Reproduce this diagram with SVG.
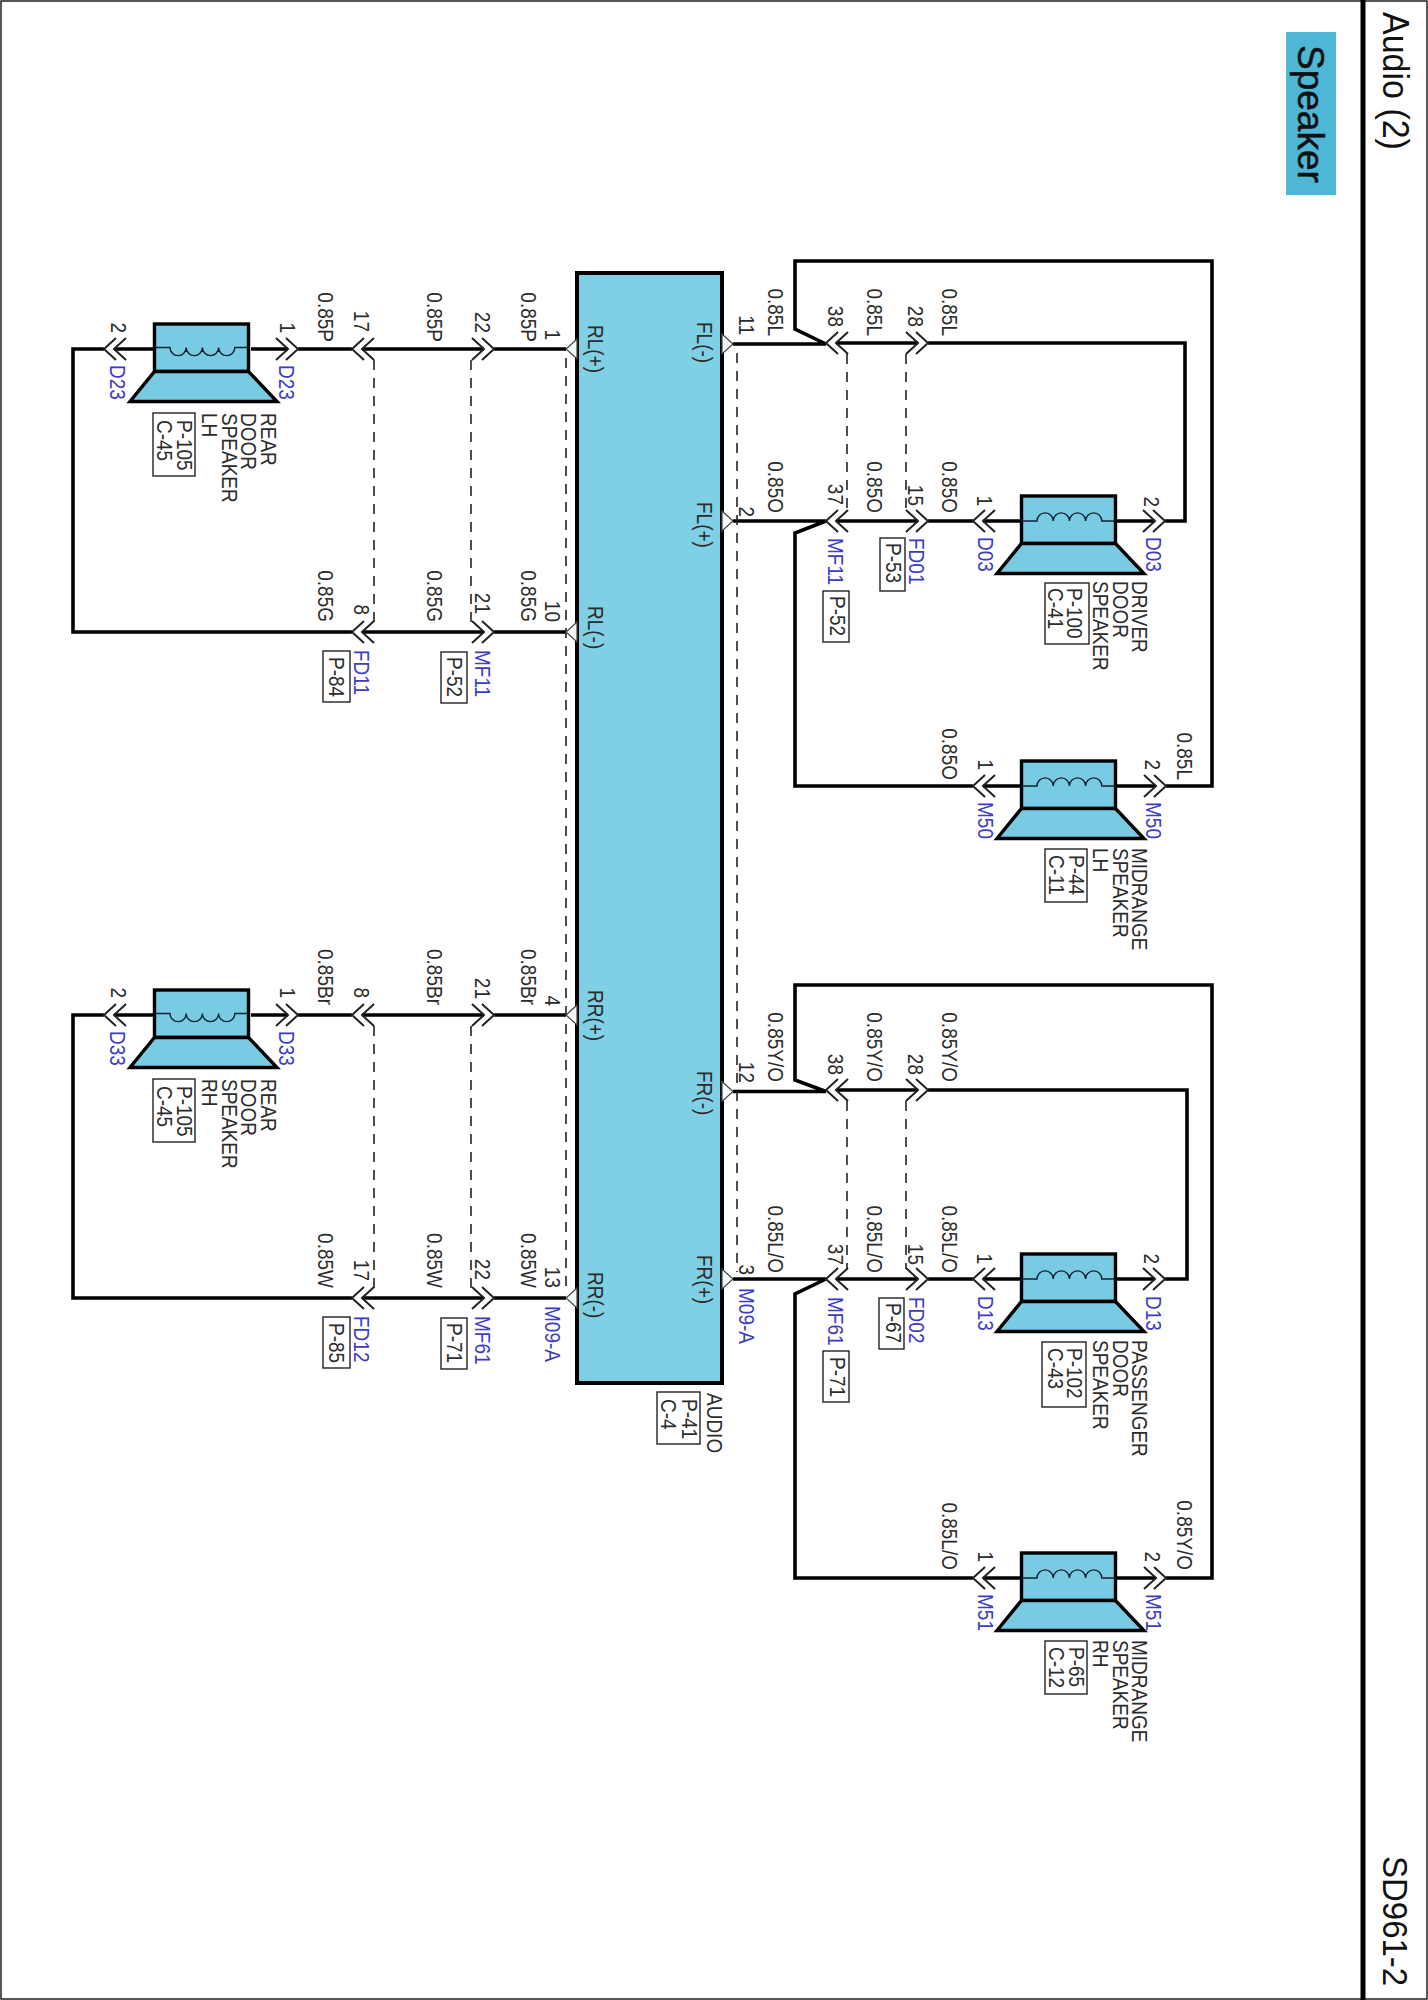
<svg xmlns="http://www.w3.org/2000/svg" xmlns:xlink="http://www.w3.org/1999/xlink" width="1428" height="2000" viewBox="0 0 1428 2000">
<style>
text{font-family:"Liberation Sans",Arial,sans-serif;font-size:19px;fill:#2c2c2c}
.b{fill:#3c3cc4}
.e{text-anchor:end}
.w{fill:none;stroke:#000;stroke-width:3.6;stroke-linejoin:miter}
.d{fill:none;stroke:#222;stroke-width:1.6;stroke-dasharray:10 8}
.c{fill:none;stroke:#222;stroke-width:2}
.p{fill:#f4fafc;stroke:#444;stroke-width:1.2}
.r{fill:#fff;stroke:#222;stroke-width:1.4}
.s{fill:#78cbe2;stroke:#000;stroke-width:3.4}
.l{fill:none;stroke:#123;stroke-width:1.4}
.h{font-size:34px;fill:#111}
</style>
<defs>
<path id="cl" class="c" d="M12-11L0 0 12 11M22-11L10 0 22 11"/>
<path id="cr" class="c" d="M-12-11L0 0-12 11M-22-11L-10 0-22 11"/>
<polygon id="pl" class="p" points="11,-10 0,0 11,10"/>
<polygon id="pr" class="p" points="0,-10 11,0 0,10"/>
<g id="su">
<rect class="s" x="1.5" y="-25" width="94" height="47.5"/>
<polygon class="s" points="1.5,22.5 95.5,22.5 124,52.5 -23,52.5"/>
<path class="l" d="M1.5 0H17a8.1 8.1 0 0 1 16.2 0a8.1 8.1 0 0 1 16.2 0a8.1 8.1 0 0 1 16.2 0a8.1 8.1 0 0 1 16.2 0H95.5"/>
</g>
<g id="sd">
<rect class="s" x="1.5" y="-25" width="94" height="47.5"/>
<polygon class="s" points="1.5,22.5 95.5,22.5 124,52.5 -23,52.5"/>
<path class="l" d="M1.5-1.5H17a8.1 8.1 0 0 0 16.2 0a8.1 8.1 0 0 0 16.2 0a8.1 8.1 0 0 0 16.2 0a8.1 8.1 0 0 0 16.2 0H95.5"/>
</g>
</defs>
<rect width="1428" height="2000" fill="#fff"/>
<g id="frame">
<rect x="1" y="1" width="1426" height="1998" fill="none" stroke="#222" stroke-width="1.5"/>
<path d="M1363 0V2000" stroke="#000" stroke-width="5" fill="none"/>
<text class="h" transform="matrix(0 1 -1.07 0 1383 12)">Audio (2)</text>
<text class="h" transform="matrix(0 1 -1.07 0 1383 1856)" style="font-size:33px">SD961-2</text>
</g>
<g id="title">
<rect x="1286" y="32" width="50" height="163" fill="#4fb7d6"/>
<text transform="matrix(0 1 -1 0 1298 45)" style="font-size:37px;fill:#111;stroke:#111;stroke-width:.5">Speaker</text>
</g>

<g id="connectors">
<path class="w" d="M566 349H494M484 349H362M352 349H298M288 349H251M153 349H114M104 349H73V632H352M362 632H484M494 632H566"/>
<path class="w" d="M566 1015H494M484 1015H362M352 1015H298M288 1015H251M153 1015H114M104 1015H73V1298H352M362 1298H484M494 1298H566"/>
<path class="w" d="M733 344H826L795 329V261H1212V786H1166M1156 786H1117M1021 786H983M973 786H795V533L826 521H733M836 521H918M928 521H973M983 521H1021M1117 521H1155M1165 521H1185V343H928M918 343H836"/>
<path class="w" d="M733 1091.5H826L795 1080V985H1212V1578H1166M1156 1578H1117M1021 1578H983M973 1578H795V1294L826 1279H733M836 1279H918M928 1279H973M983 1279H1021M1117 1279H1155M1165 1279H1187V1090H928M918 1090H836"/>
<path class="d" d="M566 358V1290M737 353V1272M374 360V622M374 1026V1288M471 360V622M471 1026V1288M847 354V511M847 1101V1269M906 354V511M906 1101V1269"/>
</g>

<g id="audio">
<rect class="s" x="577" y="273" width="145" height="1110" style="fill:#7fcfe5;stroke-width:4"/>
<use xlink:href="#pl" href="#pl" x="566" y="349"/><use xlink:href="#pl" href="#pl" x="566" y="632"/>
<use xlink:href="#pl" href="#pl" x="566" y="1015"/><use xlink:href="#pl" href="#pl" x="566" y="1298"/>
<use xlink:href="#pr" href="#pr" x="722" y="344"/><use xlink:href="#pr" href="#pr" x="722" y="521"/>
<use xlink:href="#pr" href="#pr" x="722" y="1091.5"/><use xlink:href="#pr" href="#pr" x="722" y="1279"/>
<text transform="matrix(0 1 -1.15 0 588 325)">RL(+)</text>
<text transform="matrix(0 1 -1.15 0 588 606)">RL(-)</text>
<text transform="matrix(0 1 -1.15 0 588 990)">RR(+)</text>
<text transform="matrix(0 1 -1.15 0 588 1272)">RR(-)</text>
<text transform="matrix(0 1 -1.15 0 697 322)">FL(-)</text>
<text transform="matrix(0 1 -1.15 0 697 502)">FL(+)</text>
<text transform="matrix(0 1 -1.15 0 697 1071)">FR(-)</text>
<text transform="matrix(0 1 -1.15 0 697 1255)">FR(+)</text>
<text class="e" transform="matrix(0 1 -1.15 0 545 340)">1</text>
<text class="e" transform="matrix(0 1 -1.15 0 545 622)">10</text>
<text class="e" transform="matrix(0 1 -1.15 0 545 1006)">4</text>
<text class="e" transform="matrix(0 1 -1.15 0 545 1288)">13</text>
<text class="e" transform="matrix(0 1 -1.15 0 739 335)">11</text>
<text class="e" transform="matrix(0 1 -1.15 0 739 517)">2</text>
<text class="e" transform="matrix(0 1 -1.15 0 739 1083)">12</text>
<text class="e" transform="matrix(0 1 -1.15 0 739 1275)">3</text>
<text class="b" transform="matrix(0 1 -1.15 0 545 1306)">M09-A</text>
<text class="b" transform="matrix(0 1 -1.15 0 739 1288)">M09-A</text>
<text transform="matrix(0 1 -1.15 0 707 1393)">AUDIO</text>
<rect class="r" x="657" y="1392" width="43" height="52"/>
<text transform="matrix(0 1 -1.15 0 682 1399)">P-41</text>
<text transform="matrix(0 1 -1.15 0 661 1399)">C-4</text>
</g>

<g id="speaker-rear-lh">
<use xlink:href="#sd" href="#sd" x="153" y="349"/>
<use xlink:href="#cl" href="#cl" x="104" y="349"/><use xlink:href="#cr" href="#cr" x="298" y="349"/>
<text class="e" transform="matrix(0 1 -1.15 0 111 333)">2</text>
<text class="e" transform="matrix(0 1 -1.15 0 280 333)">1</text>
<text class="b" transform="matrix(0 1 -1.15 0 110 365)">D23</text>
<text class="b" transform="matrix(0 1 -1.15 0 279 365)">D23</text>
<text transform="matrix(0 1 -1.15 0 261 413)">REAR</text>
<text transform="matrix(0 1 -1.15 0 241 413)">DOOR</text>
<text transform="matrix(0 1 -1.15 0 221.5 413)">SPEAKER</text>
<text transform="matrix(0 1 -1.15 0 202 413)">LH</text>
<rect class="r" x="153" y="413" width="42" height="63"/>
<text transform="matrix(0 1 -1.15 0 177 420)">P-105</text>
<text transform="matrix(0 1 -1.15 0 157 420)">C-45</text>
</g>
<g id="speaker-rear-rh">
<use xlink:href="#sd" href="#sd" x="153" y="1015"/>
<use xlink:href="#cl" href="#cl" x="104" y="1015"/><use xlink:href="#cr" href="#cr" x="298" y="1015"/>
<text class="e" transform="matrix(0 1 -1.15 0 111 998)">2</text>
<text class="e" transform="matrix(0 1 -1.15 0 280 998)">1</text>
<text class="b" transform="matrix(0 1 -1.15 0 110 1031)">D33</text>
<text class="b" transform="matrix(0 1 -1.15 0 279 1031)">D33</text>
<text transform="matrix(0 1 -1.15 0 261 1079)">REAR</text>
<text transform="matrix(0 1 -1.15 0 241 1079)">DOOR</text>
<text transform="matrix(0 1 -1.15 0 221.5 1079)">SPEAKER</text>
<text transform="matrix(0 1 -1.15 0 202 1079)">RH</text>
<rect class="r" x="153" y="1079" width="42" height="63"/>
<text transform="matrix(0 1 -1.15 0 177 1086)">P-105</text>
<text transform="matrix(0 1 -1.15 0 157 1086)">C-45</text>
</g>
<g id="speaker-driver-door">
<use xlink:href="#su" href="#su" x="1020" y="521"/>
<use xlink:href="#cl" href="#cl" x="973" y="521"/><use xlink:href="#cr" href="#cr" x="1165" y="521"/>
<text class="e" transform="matrix(0 1 -1.15 0 977 506)">1</text>
<text class="e" transform="matrix(0 1 -1.15 0 1144 507)">2</text>
<text class="b" transform="matrix(0 1 -1.15 0 978 537)">D03</text>
<text class="b" transform="matrix(0 1 -1.15 0 1146 537)">D03</text>
<text transform="matrix(0 1 -1.15 0 1132 581)">DRIVER</text>
<text transform="matrix(0 1 -1.15 0 1113 581)">DOOR</text>
<text transform="matrix(0 1 -1.15 0 1093 581)">SPEAKER</text>
<rect class="r" x="1045" y="583" width="44" height="61"/>
<text transform="matrix(0 1 -1.15 0 1067 588)">P-100</text>
<text transform="matrix(0 1 -1.15 0 1048 588)">C-41</text>
</g>
<g id="speaker-midrange-lh">
<use xlink:href="#su" href="#su" x="1020" y="786"/>
<use xlink:href="#cl" href="#cl" x="973" y="786"/><use xlink:href="#cr" href="#cr" x="1166" y="786"/>
<text class="e" transform="matrix(0 1 -1.15 0 978 770)">1</text>
<text class="e" transform="matrix(0 1 -1.15 0 1145 770)">2</text>
<text class="b" transform="matrix(0 1 -1.15 0 978 802)">M50</text>
<text class="b" transform="matrix(0 1 -1.15 0 1146 802)">M50</text>
<text transform="matrix(0 1 -1.15 0 1132 848)">MIDRANGE</text>
<text transform="matrix(0 1 -1.15 0 1113 848)">SPEAKER</text>
<text transform="matrix(0 1 -1.15 0 1093 848)">LH</text>
<rect class="r" x="1045" y="849" width="42" height="53"/>
<text transform="matrix(0 1 -1.15 0 1069 855)">P-44</text>
<text transform="matrix(0 1 -1.15 0 1049 855)">C-11</text>
</g>
<g id="speaker-passenger-door">
<use xlink:href="#su" href="#su" x="1020" y="1279"/>
<use xlink:href="#cl" href="#cl" x="973" y="1279"/><use xlink:href="#cr" href="#cr" x="1165" y="1279"/>
<text class="e" transform="matrix(0 1 -1.15 0 977 1264)">1</text>
<text class="e" transform="matrix(0 1 -1.15 0 1144 1264)">2</text>
<text class="b" transform="matrix(0 1 -1.15 0 978 1296)">D13</text>
<text class="b" transform="matrix(0 1 -1.15 0 1146 1296)">D13</text>
<text transform="matrix(0 1 -1.15 0 1132 1340)">PASSENGER</text>
<text transform="matrix(0 1 -1.15 0 1113 1340)">DOOR</text>
<text transform="matrix(0 1 -1.15 0 1093 1340)">SPEAKER</text>
<rect class="r" x="1042" y="1342" width="44" height="65"/>
<text transform="matrix(0 1 -1.15 0 1067 1348)">P-102</text>
<text transform="matrix(0 1 -1.15 0 1048 1348)">C-43</text>
</g>
<g id="speaker-midrange-rh">
<use xlink:href="#su" href="#su" x="1020" y="1578"/>
<use xlink:href="#cl" href="#cl" x="973" y="1578"/><use xlink:href="#cr" href="#cr" x="1166" y="1578"/>
<text class="e" transform="matrix(0 1 -1.15 0 978 1562)">1</text>
<text class="e" transform="matrix(0 1 -1.15 0 1145 1562)">2</text>
<text class="b" transform="matrix(0 1 -1.15 0 978 1594)">M51</text>
<text class="b" transform="matrix(0 1 -1.15 0 1146 1594)">M51</text>
<text transform="matrix(0 1 -1.15 0 1132 1640)">MIDRANGE</text>
<text transform="matrix(0 1 -1.15 0 1113 1640)">SPEAKER</text>
<text transform="matrix(0 1 -1.15 0 1093 1640)">RH</text>
<rect class="r" x="1045" y="1641" width="42" height="53"/>
<text transform="matrix(0 1 -1.15 0 1069 1647)">P-65</text>
<text transform="matrix(0 1 -1.15 0 1049 1647)">C-12</text>
</g>

<g id="conn-fd11">
<use xlink:href="#cl" href="#cl" x="352" y="349"/><use xlink:href="#cl" href="#cl" x="352" y="632"/>
<text class="e" transform="matrix(0 1 -1.15 0 354 332)">17</text>
<text class="e" transform="matrix(0 1 -1.15 0 354 615)">8</text>
<text class="b" transform="matrix(0 1 -1.15 0 354 650)">FD11</text>
<rect class="r" x="323" y="651" width="27" height="51"/>
<text transform="matrix(0 1 -1.15 0 329 657)">P-84</text>
</g>
<g id="conn-mf11-left">
<use xlink:href="#cr" href="#cr" x="494" y="349"/><use xlink:href="#cr" href="#cr" x="494" y="632"/>
<text class="e" transform="matrix(0 1 -1.15 0 475 333)">22</text>
<text class="e" transform="matrix(0 1 -1.15 0 475 614)">21</text>
<text class="b" transform="matrix(0 1 -1.15 0 475 650)">MF11</text>
<rect class="r" x="441" y="652" width="26" height="51"/>
<text transform="matrix(0 1 -1.15 0 447 657)">P-52</text>
</g>
<g id="conn-fd12">
<use xlink:href="#cl" href="#cl" x="352" y="1015"/><use xlink:href="#cl" href="#cl" x="352" y="1298"/>
<text class="e" transform="matrix(0 1 -1.15 0 354 998)">8</text>
<text class="e" transform="matrix(0 1 -1.15 0 354 1281)">17</text>
<text class="b" transform="matrix(0 1 -1.15 0 354 1316)">FD12</text>
<rect class="r" x="323" y="1317" width="27" height="51"/>
<text transform="matrix(0 1 -1.15 0 329 1323)">P-85</text>
</g>
<g id="conn-mf61-left">
<use xlink:href="#cr" href="#cr" x="494" y="1015"/><use xlink:href="#cr" href="#cr" x="494" y="1298"/>
<text class="e" transform="matrix(0 1 -1.15 0 475 999)">21</text>
<text class="e" transform="matrix(0 1 -1.15 0 475 1280)">22</text>
<text class="b" transform="matrix(0 1 -1.15 0 475 1316)">MF61</text>
<rect class="r" x="441" y="1318" width="26" height="51"/>
<text transform="matrix(0 1 -1.15 0 447 1323)">P-71</text>
</g>
<g id="conn-mf11-right">
<use xlink:href="#cl" href="#cl" x="826" y="343"/><use xlink:href="#cl" href="#cl" x="826" y="521"/>
<text class="e" transform="matrix(0 1 -1.15 0 828 327)">38</text>
<text class="e" transform="matrix(0 1 -1.15 0 828 505)">37</text>
<text class="b" transform="matrix(0 1 -1.15 0 828 538)">MF11</text>
<rect class="r" x="823" y="591" width="26" height="51"/>
<text transform="matrix(0 1 -1.15 0 830 596)">P-52</text>
</g>
<g id="conn-fd01">
<use xlink:href="#cr" href="#cr" x="928" y="343"/><use xlink:href="#cr" href="#cr" x="928" y="521"/>
<text class="e" transform="matrix(0 1 -1.15 0 908 327)">28</text>
<text class="e" transform="matrix(0 1 -1.15 0 908 506)">15</text>
<text class="b" transform="matrix(0 1 -1.15 0 909 538)">FD01</text>
<rect class="r" x="880" y="538" width="25" height="53"/>
<text transform="matrix(0 1 -1.15 0 886 543)">P-53</text>
</g>
<g id="conn-mf61-right">
<use xlink:href="#cl" href="#cl" x="826" y="1090"/><use xlink:href="#cl" href="#cl" x="826" y="1279"/>
<text class="e" transform="matrix(0 1 -1.15 0 828 1075)">38</text>
<text class="e" transform="matrix(0 1 -1.15 0 828 1265)">37</text>
<text class="b" transform="matrix(0 1 -1.15 0 828 1297)">MF61</text>
<rect class="r" x="823" y="1351" width="26" height="51"/>
<text transform="matrix(0 1 -1.15 0 830 1357)">P-71</text>
</g>
<g id="conn-fd02">
<use xlink:href="#cr" href="#cr" x="928" y="1090"/><use xlink:href="#cr" href="#cr" x="928" y="1279"/>
<text class="e" transform="matrix(0 1 -1.15 0 908 1075)">28</text>
<text class="e" transform="matrix(0 1 -1.15 0 908 1265)">15</text>
<text class="b" transform="matrix(0 1 -1.15 0 909 1297)">FD02</text>
<rect class="r" x="879" y="1298" width="25" height="51"/>
<text transform="matrix(0 1 -1.15 0 886 1303)">P-67</text>
</g>

<g id="wire-labels">
<text class="e" transform="matrix(0 1 -1.15 0 318 342)">0.85P</text>
<text class="e" transform="matrix(0 1 -1.15 0 427 342)">0.85P</text>
<text class="e" transform="matrix(0 1 -1.15 0 521 342)">0.85P</text>
<text class="e" transform="matrix(0 1 -1.15 0 318 622)">0.85G</text>
<text class="e" transform="matrix(0 1 -1.15 0 427 622)">0.85G</text>
<text class="e" transform="matrix(0 1 -1.15 0 521 622)">0.85G</text>
<text class="e" transform="matrix(0 1 -1.15 0 318 1005)">0.85Br</text>
<text class="e" transform="matrix(0 1 -1.15 0 427 1005)">0.85Br</text>
<text class="e" transform="matrix(0 1 -1.15 0 521 1005)">0.85Br</text>
<text class="e" transform="matrix(0 1 -1.15 0 318 1288)">0.85W</text>
<text class="e" transform="matrix(0 1 -1.15 0 427 1288)">0.85W</text>
<text class="e" transform="matrix(0 1 -1.15 0 521 1288)">0.85W</text>
<text class="e" transform="matrix(0 1 -1.15 0 768 336)">0.85L</text>
<text class="e" transform="matrix(0 1 -1.15 0 867 336)">0.85L</text>
<text class="e" transform="matrix(0 1 -1.15 0 942 336)">0.85L</text>
<text class="e" transform="matrix(0 1 -1.15 0 768 513)">0.85O</text>
<text class="e" transform="matrix(0 1 -1.15 0 867 513)">0.85O</text>
<text class="e" transform="matrix(0 1 -1.15 0 942 513)">0.85O</text>
<text class="e" transform="matrix(0 1 -1.15 0 942 780)">0.85O</text>
<text class="e" transform="matrix(0 1 -1.15 0 1177 780)">0.85L</text>
<text class="e" transform="matrix(0 1 -1.15 0 768 1082)">0.85Y/O</text>
<text class="e" transform="matrix(0 1 -1.15 0 867 1082)">0.85Y/O</text>
<text class="e" transform="matrix(0 1 -1.15 0 942 1082)">0.85Y/O</text>
<text class="e" transform="matrix(0 1 -1.15 0 768 1273)">0.85L/O</text>
<text class="e" transform="matrix(0 1 -1.15 0 867 1273)">0.85L/O</text>
<text class="e" transform="matrix(0 1 -1.15 0 942 1273)">0.85L/O</text>
<text class="e" transform="matrix(0 1 -1.15 0 942 1570)">0.85L/O</text>
<text class="e" transform="matrix(0 1 -1.15 0 1177 1570)">0.85Y/O</text>
</g>
</svg>
